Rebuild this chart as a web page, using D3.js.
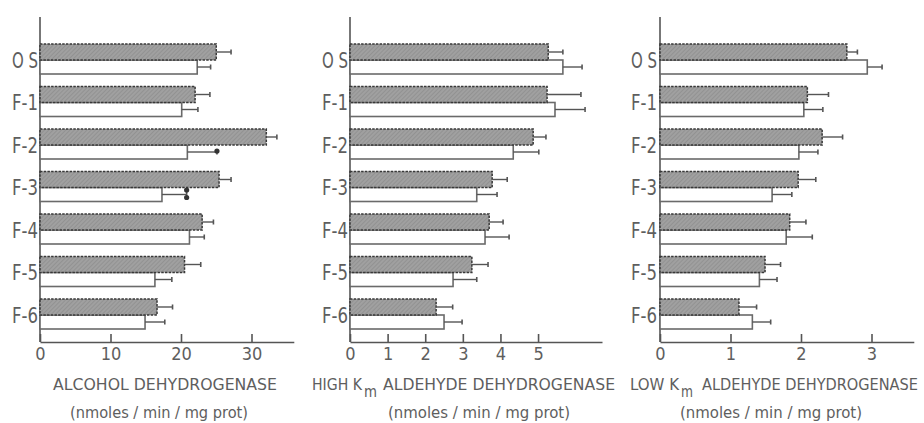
<!DOCTYPE html>
<html><head><meta charset="utf-8">
<script src="https://cdn.jsdelivr.net/npm/d3@7"></script>
<style>html,body{margin:0;padding:0;background:#fff;}svg{display:block;}</style>
</head><body>
<svg id="chart" width="924" height="423"></svg>
<script>
const categories = ["O S","F-1","F-2","F-3","F-4","F-5","F-6"];

// Alcohol dehydrogenase
const adhHatched = [25.0, 22.0, 32.1, 25.4, 23.0, 20.5, 16.6];
const adhHatchedSE = [2.1, 2.1, 1.5, 1.7, 1.6, 2.3, 2.2];
const adhWhite = [22.3, 20.1, 20.9, 17.3, 21.2, 16.3, 14.9];
const adhWhiteSE = [1.9, 2.3, 4.2, 3.5, 2.1, 2.4, 2.8];
const adhWhiteSig = [0, 0, 1, 2, 0, 0, 0];

// High Km aldehyde dehydrogenase
const highHatched = [5.27, 5.24, 4.87, 3.78, 3.70, 3.24, 2.29];
const highHatchedSE = [0.39, 0.90, 0.34, 0.40, 0.37, 0.43, 0.44];
const highWhite = [5.66, 5.45, 4.34, 3.37, 3.59, 2.74, 2.50];
const highWhiteSE = [0.51, 0.80, 0.68, 0.54, 0.64, 0.63, 0.48];

// Low Km aldehyde dehydrogenase
const lowHatched = [2.65, 2.09, 2.30, 1.96, 1.84, 1.49, 1.12];
const lowHatchedSE = [0.15, 0.30, 0.29, 0.25, 0.23, 0.22, 0.25];
const lowWhite = [2.94, 2.04, 1.97, 1.59, 1.79, 1.41, 1.31];
const lowWhiteSE = [0.21, 0.27, 0.27, 0.28, 0.37, 0.25, 0.26];

const adhTicks = [0, 10, 20, 30];
const highTicks = [0, 1, 2, 3, 4, 5];
const lowTicks = [0, 1, 2, 3];

const noSig = [0,0,0,0,0,0,0];
const unitLabel = "(nmoles / min / mg  prot)";

const panels = [
  {hatched: adhHatched, hse: adhHatchedSE, white: adhWhite, wse: adhWhiteSE, sig: adhWhiteSig,
   ticks: adhTicks, max: 36, x0: 40, x1: 293.8,
   title: [{s: "ALCOHOL DEHYDROGENASE", x: 53, w: 224}], subX: 70, subW: 178, labX: 38},
  {hatched: highHatched, hse: highHatchedSE, white: highWhite, wse: highWhiteSE, sig: noSig,
   ticks: highTicks, max: 6.7, x0: 350, x1: 602,
   title: [{s: "HIGH K", x: 312, w: 50}, {s: "m", x: 364, w: 13, sub: true}, {s: "ALDEHYDE DEHYDROGENASE", x: 383, w: 232}],
   subX: 388, subW: 182, labX: 348},
  {hatched: lowHatched, hse: lowHatchedSE, white: lowWhite, wse: lowWhiteSE, sig: noSig,
   ticks: lowTicks, max: 3.6, x0: 660, x1: 913.8,
   title: [{s: "LOW K", x: 630, w: 49}, {s: "m", x: 681, w: 12, sub: true}, {s: "ALDEHYDE DEHYDROGENASE", x: 702, w: 216}],
   subX: 680, subW: 182, labX: 657}
];

const svg = d3.select("#chart");
const ink = "#555";
const txt = "#5e5e5e";
const font = "'DejaVu Sans Condensed','DejaVu Sans',sans-serif";

const defs = svg.append("defs");
const pat = defs.append("pattern").attr("id","hatch").attr("patternUnits","userSpaceOnUse")
  .attr("width",3).attr("height",3).attr("patternTransform","rotate(45)");
pat.append("rect").attr("width",3).attr("height",3).attr("fill","#a0a0a0");
pat.append("line").attr("x1",0).attr("y1",0).attr("x2",0).attr("y2",3).attr("stroke","#858585").attr("stroke-width",1);

const y = d3.scaleBand().domain(categories).range([44, 329]).paddingInner(0.294).paddingOuter(0);
const hH = y.bandwidth() * 16 / 30;
const wH = y.bandwidth() - hH;
const axisBottom = 342, axisTop = 17;

panels.forEach(p => {
  const x = d3.scaleLinear().domain([0, p.max]).range([p.x0, p.x1]);
  const g = svg.append("g");

  // x axis
  const ax = g.append("g").attr("transform", `translate(0,${axisBottom})`)
    .call(d3.axisBottom(x).tickValues(p.ticks).tickSize(-8).tickSizeOuter(0).tickPadding(5).tickFormat(d3.format("d")));
  ax.select(".domain").attr("stroke", ink).attr("stroke-width", 1.6);
  ax.selectAll(".tick line").attr("stroke", ink).attr("stroke-width", 1.6);
  ax.selectAll(".tick text").attr("fill", txt).attr("font-family", font).attr("font-size", 18);

  // y axis
  g.append("line").attr("x1", x(0)).attr("x2", x(0)).attr("y1", axisTop).attr("y2", axisBottom)
    .attr("stroke", ink).attr("stroke-width", 1.6);

  categories.forEach((c, i) => {
    const top = y(c);
    // white bar
    g.append("rect").attr("x", x(0)).attr("y", top + hH).attr("width", x(p.white[i]) - x(0)).attr("height", wH)
      .attr("fill", "#fff").attr("stroke", "#6a6a6a").attr("stroke-width", 1.6);
    // hatched bar
    g.append("rect").attr("x", x(0)).attr("y", top).attr("width", x(p.hatched[i]) - x(0)).attr("height", hH)
      .attr("fill", "url(#hatch)").attr("stroke", "#383838").attr("stroke-width", 1.5).attr("stroke-dasharray", "2.5,1.2");

    // error bars
    const eb = (v, se, cy) => {
      g.append("line").attr("x1", x(v)).attr("x2", x(v + se)).attr("y1", cy).attr("y2", cy)
        .attr("stroke", ink).attr("stroke-width", 1.4);
      g.append("line").attr("x1", x(v + se)).attr("x2", x(v + se)).attr("y1", cy - 2.5).attr("y2", cy + 2.5)
        .attr("stroke", ink).attr("stroke-width", 1.6);
    };
    eb(p.hatched[i], p.hse[i], top + hH / 2);
    const wc = top + hH + wH / 2;
    eb(p.white[i], p.wse[i], wc);

    // significance dots
    const n = p.sig[i];
    const ex = x(p.white[i] + p.wse[i]);
    if (n === 1) {
      g.append("circle").attr("cx", ex).attr("cy", wc - 1).attr("r", 2.6).attr("fill", "#333");
    } else if (n === 2) {
      g.append("circle").attr("cx", ex).attr("cy", wc - 4.5).attr("r", 2.6).attr("fill", "#333");
      g.append("circle").attr("cx", ex).attr("cy", wc + 3).attr("r", 2.6).attr("fill", "#333");
    }

    // category label
    g.append("text").attr("x", p.labX).attr("y", top + hH).attr("text-anchor", "end")
      .attr("dy", "0.36em").attr("fill", txt).attr("font-family", font).attr("font-size", 21)
      .attr("textLength", 26).attr("lengthAdjust", "spacingAndGlyphs").text(c);
  });

  // title pieces (subscript m drawn as its own text)
  p.title.forEach(piece => {
    g.append("text").attr("x", piece.x).attr("y", piece.sub ? 397 : 390).attr("fill", txt)
      .attr("font-family", font).attr("font-size", piece.sub ? 15 : 16.5)
      .attr("textLength", piece.w).attr("lengthAdjust", "spacingAndGlyphs").text(piece.s);
  });

  // subtitle
  g.append("text").attr("x", p.subX).attr("y", 418).attr("fill", txt)
    .attr("font-family", font).attr("font-size", 16)
    .attr("textLength", p.subW).attr("lengthAdjust", "spacingAndGlyphs")
    .text(unitLabel);
});
</script>
</body></html>
